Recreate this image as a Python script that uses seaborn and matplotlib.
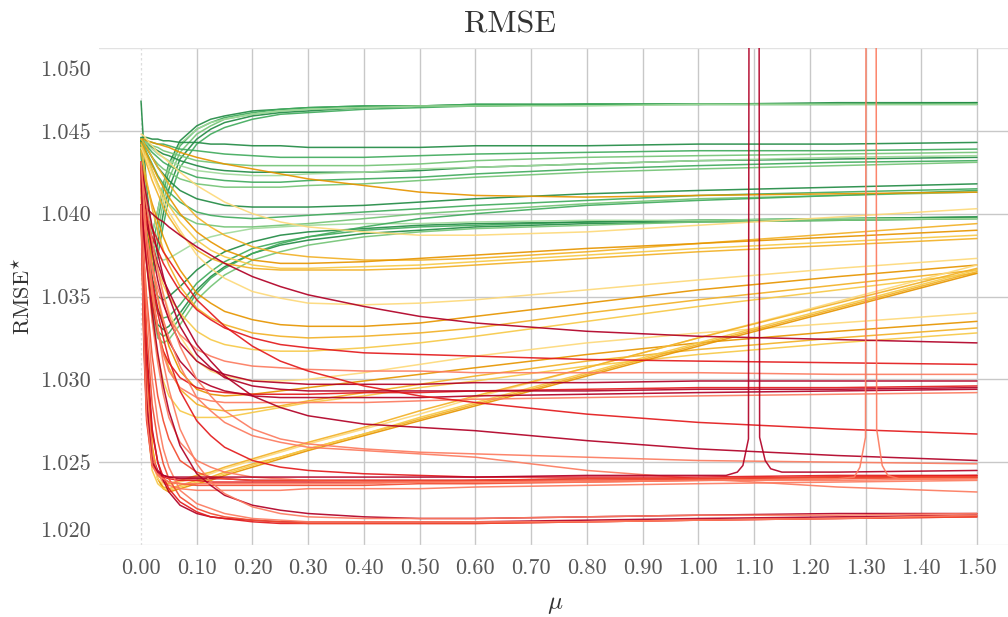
import matplotlib
matplotlib.use("Agg")
import matplotlib.pyplot as plt
import matplotlib.transforms as mtransforms
import seaborn as sns

# ---------------------------------------------------------------------------
# data: RMSE* as a function of the weight mu, one list per curve
# ---------------------------------------------------------------------------
mu = [0.0, 0.005, 0.01, 0.02, 0.03, 0.04, 0.05, 0.07, 0.1, 0.125, 0.15,
      0.2, 0.25, 0.3, 0.4, 0.5, 0.6, 0.8, 1.0, 1.25, 1.5]

green_shades = ["#238b45", "#41ab5d", "#74c476", "#a1d99b"]
yellow_shades = ["#e69500", "#f2b127", "#f7c948", "#fdd97a"]
red_shades = ["#b10026", "#e31a1c", "#f24b2f", "#fc7b5f"]

green_top = [
    [1.0468, 1.0440, 1.0415, 1.0388, 1.0402, 1.0418, 1.0430, 1.0444, 1.0453, 1.0457, 1.0459, 1.0462, 1.0463, 1.0464, 1.0465, 1.0465, 1.0466, 1.0466, 1.0466, 1.0467, 1.0467],
    [1.0445, 1.0425, 1.0403, 1.0380, 1.0396, 1.0413, 1.0426, 1.0441, 1.0451, 1.0455, 1.0458, 1.0461, 1.0463, 1.0464, 1.0465, 1.0465, 1.0466, 1.0466, 1.0466, 1.0466, 1.0466],
    [1.0444, 1.0420, 1.0397, 1.0372, 1.0389, 1.0407, 1.0421, 1.0437, 1.0448, 1.0453, 1.0457, 1.0460, 1.0462, 1.0463, 1.0464, 1.0465, 1.0465, 1.0466, 1.0466, 1.0466, 1.0466],
    [1.0446, 1.0418, 1.0392, 1.0366, 1.0382, 1.0400, 1.0415, 1.0433, 1.0445, 1.0451, 1.0455, 1.0459, 1.0461, 1.0462, 1.0464, 1.0465, 1.0465, 1.0466, 1.0466, 1.0466, 1.0467],
    [1.0443, 1.0414, 1.0387, 1.0360, 1.0375, 1.0393, 1.0409, 1.0428, 1.0442, 1.0448, 1.0452, 1.0457, 1.0460, 1.0461, 1.0463, 1.0464, 1.0465, 1.0466, 1.0466, 1.0466, 1.0466],
    [1.0445, 1.0428, 1.0410, 1.0388, 1.0402, 1.0417, 1.0428, 1.0442, 1.0451, 1.0455, 1.0457, 1.0460, 1.0462, 1.0463, 1.0464, 1.0465, 1.0465, 1.0465, 1.0466, 1.0466, 1.0466],
]
green_top_shade = [0, 1, 2, 0, 1, 3]

green_upper = [
    [1.0446, 1.0446, 1.0446, 1.0445, 1.0445, 1.0444, 1.0444, 1.0443, 1.0443, 1.0442, 1.0442, 1.0441, 1.0441, 1.0440, 1.0440, 1.0440, 1.0441, 1.0441, 1.0442, 1.0442, 1.0443],
    [1.0445, 1.0445, 1.0444, 1.0443, 1.0442, 1.0442, 1.0441, 1.0439, 1.0438, 1.0437, 1.0436, 1.0435, 1.0434, 1.0434, 1.0434, 1.0435, 1.0436, 1.0437, 1.0438, 1.0438, 1.0439],
    [1.0445, 1.0444, 1.0443, 1.0441, 1.0440, 1.0438, 1.0437, 1.0435, 1.0432, 1.0431, 1.0430, 1.0429, 1.0429, 1.0429, 1.0429, 1.0430, 1.0432, 1.0434, 1.0435, 1.0436, 1.0437],
    [1.0444, 1.0443, 1.0442, 1.0440, 1.0438, 1.0436, 1.0435, 1.0432, 1.0429, 1.0427, 1.0426, 1.0425, 1.0425, 1.0425, 1.0425, 1.0426, 1.0428, 1.0430, 1.0432, 1.0433, 1.0434],
    [1.0445, 1.0443, 1.0442, 1.0439, 1.0436, 1.0434, 1.0432, 1.0429, 1.0426, 1.0425, 1.0424, 1.0423, 1.0423, 1.0424, 1.0425, 1.0427, 1.0428, 1.0430, 1.0432, 1.0434, 1.0435],
    [1.0444, 1.0442, 1.0441, 1.0437, 1.0434, 1.0431, 1.0429, 1.0426, 1.0422, 1.0421, 1.0420, 1.0419, 1.0419, 1.0420, 1.0421, 1.0422, 1.0424, 1.0427, 1.0429, 1.0431, 1.0432],
    [1.0443, 1.0441, 1.0439, 1.0434, 1.0430, 1.0427, 1.0425, 1.0421, 1.0418, 1.0417, 1.0416, 1.0416, 1.0416, 1.0417, 1.0418, 1.0420, 1.0422, 1.0425, 1.0427, 1.0429, 1.0431],
]
green_upper_shade = [0, 1, 2, 0, 3, 1, 2]

green_middle = [
    [1.0445, 1.0443, 1.0440, 1.0434, 1.0428, 1.0424, 1.0420, 1.0414, 1.0409, 1.0407, 1.0405, 1.0404, 1.0404, 1.0404, 1.0405, 1.0407, 1.0409, 1.0412, 1.0414, 1.0416, 1.0418],
    [1.0444, 1.0441, 1.0437, 1.0430, 1.0423, 1.0418, 1.0413, 1.0407, 1.0401, 1.0399, 1.0398, 1.0397, 1.0398, 1.0399, 1.0401, 1.0403, 1.0405, 1.0408, 1.0411, 1.0413, 1.0415],
    [1.0445, 1.0441, 1.0436, 1.0426, 1.0418, 1.0411, 1.0406, 1.0399, 1.0394, 1.0393, 1.0392, 1.0392, 1.0393, 1.0394, 1.0397, 1.0400, 1.0402, 1.0406, 1.0409, 1.0411, 1.0413],
]
green_middle_shade = [0, 1, 2]

green_lower = [
    [1.0440, 1.0408, 1.0380, 1.0346, 1.0333, 1.0330, 1.0332, 1.0340, 1.0354, 1.0362, 1.0368, 1.0376, 1.0381, 1.0384, 1.0388, 1.0390, 1.0392, 1.0394, 1.0395, 1.0396, 1.0397],
    [1.0442, 1.0412, 1.0385, 1.0353, 1.0340, 1.0337, 1.0338, 1.0345, 1.0358, 1.0365, 1.0371, 1.0379, 1.0383, 1.0386, 1.0390, 1.0392, 1.0393, 1.0395, 1.0396, 1.0397, 1.0398],
    [1.0438, 1.0404, 1.0375, 1.0340, 1.0325, 1.0322, 1.0324, 1.0333, 1.0348, 1.0356, 1.0363, 1.0372, 1.0377, 1.0381, 1.0386, 1.0389, 1.0391, 1.0393, 1.0395, 1.0396, 1.0397],
    [1.0444, 1.0416, 1.0390, 1.0361, 1.0350, 1.0348, 1.0350, 1.0356, 1.0366, 1.0372, 1.0377, 1.0383, 1.0387, 1.0389, 1.0391, 1.0393, 1.0394, 1.0395, 1.0396, 1.0397, 1.0398],
    [1.0440, 1.0418, 1.0400, 1.0381, 1.0374, 1.0372, 1.0373, 1.0377, 1.0383, 1.0386, 1.0388, 1.0391, 1.0392, 1.0393, 1.0394, 1.0394, 1.0395, 1.0396, 1.0396, 1.0397, 1.0397],
    [1.0441, 1.0407, 1.0378, 1.0343, 1.0329, 1.0326, 1.0328, 1.0337, 1.0352, 1.0361, 1.0367, 1.0376, 1.0382, 1.0386, 1.0392, 1.0397, 1.0400, 1.0405, 1.0408, 1.0411, 1.0414],
]
green_lower_shade = [0, 1, 2, 0, 3, 1]

yellow_upper = [
    [1.0445, 1.0445, 1.0444, 1.0443, 1.0442, 1.0441, 1.0440, 1.0437, 1.0434, 1.0432, 1.0430, 1.0427, 1.0424, 1.0421, 1.0417, 1.0413, 1.0411, 1.0410, 1.0411, 1.0412, 1.0413],
    [1.0448, 1.0447, 1.0445, 1.0441, 1.0437, 1.0434, 1.0431, 1.0425, 1.0417, 1.0412, 1.0407, 1.0400, 1.0395, 1.0392, 1.0389, 1.0387, 1.0387, 1.0389, 1.0393, 1.0398, 1.0403],
    [1.0445, 1.0443, 1.0440, 1.0434, 1.0428, 1.0423, 1.0418, 1.0409, 1.0398, 1.0392, 1.0387, 1.0380, 1.0376, 1.0374, 1.0372, 1.0372, 1.0373, 1.0377, 1.0382, 1.0388, 1.0394],
    [1.0443, 1.0440, 1.0436, 1.0429, 1.0422, 1.0416, 1.0410, 1.0400, 1.0389, 1.0383, 1.0378, 1.0372, 1.0370, 1.0370, 1.0371, 1.0373, 1.0375, 1.0379, 1.0382, 1.0386, 1.0390],
    [1.0442, 1.0438, 1.0434, 1.0426, 1.0418, 1.0411, 1.0405, 1.0395, 1.0384, 1.0378, 1.0374, 1.0369, 1.0367, 1.0367, 1.0368, 1.0369, 1.0371, 1.0375, 1.0379, 1.0383, 1.0387],
    [1.0440, 1.0435, 1.0430, 1.0420, 1.0412, 1.0404, 1.0398, 1.0388, 1.0378, 1.0373, 1.0370, 1.0367, 1.0366, 1.0366, 1.0366, 1.0367, 1.0369, 1.0373, 1.0377, 1.0381, 1.0385],
]
yellow_upper_shade = [0, 3, 1, 0, 2, 1]

yellow_middle = [
    [1.0440, 1.0436, 1.0432, 1.0424, 1.0416, 1.0408, 1.0401, 1.0390, 1.0375, 1.0367, 1.0361, 1.0353, 1.0349, 1.0346, 1.0345, 1.0346, 1.0348, 1.0354, 1.0360, 1.0367, 1.0373],
    [1.0430, 1.0424, 1.0418, 1.0406, 1.0396, 1.0386, 1.0378, 1.0366, 1.0352, 1.0346, 1.0341, 1.0336, 1.0333, 1.0332, 1.0332, 1.0334, 1.0338, 1.0346, 1.0354, 1.0362, 1.0369],
    [1.0438, 1.0429, 1.0420, 1.0403, 1.0390, 1.0378, 1.0369, 1.0356, 1.0343, 1.0337, 1.0333, 1.0328, 1.0326, 1.0325, 1.0326, 1.0328, 1.0331, 1.0340, 1.0348, 1.0357, 1.0366],
    [1.0410, 1.0401, 1.0393, 1.0378, 1.0366, 1.0357, 1.0350, 1.0340, 1.0329, 1.0324, 1.0321, 1.0318, 1.0317, 1.0317, 1.0319, 1.0322, 1.0326, 1.0335, 1.0344, 1.0354, 1.0364],
]
yellow_middle_shade = [3, 0, 1, 2]

yellow_lower = [
    [1.0420, 1.0410, 1.0400, 1.0381, 1.0365, 1.0352, 1.0341, 1.0326, 1.0311, 1.0305, 1.0302, 1.0299, 1.0299, 1.0300, 1.0304, 1.0309, 1.0314, 1.0322, 1.0328, 1.0334, 1.0340],
    [1.0430, 1.0413, 1.0398, 1.0370, 1.0349, 1.0333, 1.0320, 1.0305, 1.0294, 1.0291, 1.0290, 1.0291, 1.0293, 1.0295, 1.0299, 1.0303, 1.0307, 1.0315, 1.0322, 1.0329, 1.0335],
    [1.0405, 1.0389, 1.0375, 1.0350, 1.0331, 1.0317, 1.0307, 1.0294, 1.0285, 1.0282, 1.0281, 1.0282, 1.0284, 1.0287, 1.0292, 1.0297, 1.0302, 1.0311, 1.0318, 1.0325, 1.0331],
    [1.0415, 1.0390, 1.0370, 1.0336, 1.0314, 1.0299, 1.0290, 1.0281, 1.0277, 1.0277, 1.0277, 1.0280, 1.0283, 1.0286, 1.0290, 1.0295, 1.0299, 1.0308, 1.0315, 1.0322, 1.0328],
]
yellow_lower_shade = [3, 0, 1, 2]

yellow_rising = [
    [1.0405, 1.0340, 1.0295, 1.0255, 1.0240, 1.0235, 1.0234, 1.0236, 1.0239, 1.0241, 1.0244, 1.0249, 1.0253, 1.0258, 1.0267, 1.0276, 1.0285, 1.0303, 1.0321, 1.0343, 1.0365],
    [1.0431, 1.0365, 1.0315, 1.0260, 1.0240, 1.0234, 1.0232, 1.0234, 1.0237, 1.0239, 1.0242, 1.0247, 1.0252, 1.0257, 1.0266, 1.0275, 1.0284, 1.0302, 1.0320, 1.0342, 1.0364],
    [1.0410, 1.0335, 1.0288, 1.0250, 1.0240, 1.0237, 1.0236, 1.0238, 1.0241, 1.0243, 1.0246, 1.0251, 1.0256, 1.0261, 1.0270, 1.0279, 1.0289, 1.0307, 1.0325, 1.0347, 1.0369],
    [1.0400, 1.0325, 1.0280, 1.0245, 1.0237, 1.0234, 1.0233, 1.0235, 1.0238, 1.0240, 1.0243, 1.0248, 1.0253, 1.0258, 1.0267, 1.0277, 1.0286, 1.0304, 1.0322, 1.0344, 1.0366],
    [1.0420, 1.0360, 1.0308, 1.0258, 1.0243, 1.0238, 1.0237, 1.0239, 1.0242, 1.0244, 1.0247, 1.0252, 1.0257, 1.0262, 1.0271, 1.0281, 1.0290, 1.0307, 1.0325, 1.0346, 1.0367],
]
yellow_rising_shade = [1, 0, 3, 2, 1]

red_slow = [
    [1.0405, 1.0404, 1.0403, 1.0400, 1.0397, 1.0395, 1.0392, 1.0387, 1.0380, 1.0375, 1.0370, 1.0362, 1.0356, 1.0351, 1.0344, 1.0338, 1.0334, 1.0329, 1.0326, 1.0324, 1.0322],
    [1.0405, 1.0400, 1.0395, 1.0386, 1.0378, 1.0370, 1.0364, 1.0353, 1.0342, 1.0336, 1.0331, 1.0325, 1.0321, 1.0319, 1.0316, 1.0315, 1.0314, 1.0312, 1.0311, 1.0310, 1.0309],
    [1.0405, 1.0394, 1.0385, 1.0368, 1.0355, 1.0345, 1.0337, 1.0327, 1.0318, 1.0314, 1.0311, 1.0308, 1.0307, 1.0306, 1.0305, 1.0305, 1.0304, 1.0304, 1.0304, 1.0303, 1.0303],
    [1.0431, 1.0414, 1.0400, 1.0377, 1.0360, 1.0346, 1.0336, 1.0322, 1.0311, 1.0306, 1.0303, 1.0299, 1.0298, 1.0297, 1.0297, 1.0297, 1.0298, 1.0298, 1.0299, 1.0299, 1.0299],
    [1.0405, 1.0386, 1.0370, 1.0345, 1.0328, 1.0317, 1.0310, 1.0301, 1.0295, 1.0293, 1.0292, 1.0291, 1.0291, 1.0291, 1.0292, 1.0292, 1.0293, 1.0294, 1.0295, 1.0295, 1.0296],
    [1.0405, 1.0392, 1.0380, 1.0360, 1.0343, 1.0332, 1.0323, 1.0311, 1.0300, 1.0296, 1.0293, 1.0290, 1.0289, 1.0289, 1.0289, 1.0289, 1.0290, 1.0291, 1.0292, 1.0293, 1.0294],
    [1.0431, 1.0405, 1.0385, 1.0352, 1.0330, 1.0315, 1.0305, 1.0295, 1.0289, 1.0287, 1.0286, 1.0286, 1.0286, 1.0286, 1.0286, 1.0287, 1.0288, 1.0289, 1.0290, 1.0291, 1.0292],
    [1.0405, 1.0402, 1.0398, 1.0391, 1.0384, 1.0377, 1.0372, 1.0362, 1.0348, 1.0340, 1.0332, 1.0320, 1.0311, 1.0305, 1.0296, 1.0290, 1.0286, 1.0279, 1.0274, 1.0270, 1.0267],
    [1.0405, 1.0399, 1.0393, 1.0381, 1.0370, 1.0360, 1.0353, 1.0339, 1.0321, 1.0311, 1.0302, 1.0290, 1.0283, 1.0278, 1.0273, 1.0271, 1.0269, 1.0263, 1.0258, 1.0254, 1.0251],
    [1.0431, 1.0417, 1.0405, 1.0383, 1.0366, 1.0351, 1.0339, 1.0320, 1.0300, 1.0290, 1.0281, 1.0270, 1.0264, 1.0261, 1.0258, 1.0256, 1.0255, 1.0253, 1.0251, 1.0250, 1.0249],
    [1.0405, 1.0395, 1.0385, 1.0366, 1.0350, 1.0336, 1.0325, 1.0308, 1.0289, 1.0281, 1.0274, 1.0266, 1.0262, 1.0259, 1.0257, 1.0255, 1.0253, 1.0245, 1.0240, 1.0235, 1.0232],
    [1.0431, 1.0420, 1.0410, 1.0392, 1.0376, 1.0362, 1.0350, 1.0332, 1.0315, 1.0307, 1.0301, 1.0296, 1.0294, 1.0293, 1.0293, 1.0293, 1.0293, 1.0293, 1.0294, 1.0294, 1.0295],
]
red_slow_shade = [0, 1, 3, 0, 1, 0, 3, 1, 0, 3, 3, 0]

red_flat = [
    [1.0431, 1.0340, 1.0290, 1.0253, 1.0245, 1.0242, 1.0241, 1.0240, 1.0240, 1.0240, 1.0240, 1.0239, 1.0239, 1.0239, 1.0239, 1.0239, 1.0239, 1.0240, 1.0240, 1.0241, 1.0241],
    [1.0405, 1.0320, 1.0275, 1.0248, 1.0243, 1.0241, 1.0240, 1.0239, 1.0239, 1.0238, 1.0238, 1.0238, 1.0238, 1.0238, 1.0238, 1.0238, 1.0239, 1.0239, 1.0240, 1.0241, 1.0242],
    [1.0405, 1.0328, 1.0282, 1.0250, 1.0243, 1.0240, 1.0238, 1.0237, 1.0236, 1.0236, 1.0236, 1.0236, 1.0236, 1.0236, 1.0236, 1.0237, 1.0237, 1.0238, 1.0239, 1.0240, 1.0241],
    [1.0431, 1.0350, 1.0300, 1.0255, 1.0243, 1.0238, 1.0236, 1.0234, 1.0233, 1.0233, 1.0233, 1.0233, 1.0233, 1.0234, 1.0234, 1.0234, 1.0235, 1.0236, 1.0237, 1.0238, 1.0239],
    [1.0405, 1.0392, 1.0380, 1.0358, 1.0340, 1.0325, 1.0312, 1.0293, 1.0275, 1.0266, 1.0259, 1.0251, 1.0247, 1.0245, 1.0243, 1.0242, 1.0241, 1.0241, 1.0241, 1.0242, 1.0242],
    [1.0431, 1.0400, 1.0375, 1.0335, 1.0310, 1.0291, 1.0277, 1.0262, 1.0251, 1.0247, 1.0244, 1.0241, 1.0240, 1.0239, 1.0238, 1.0238, 1.0238, 1.0238, 1.0239, 1.0239, 1.0240],
    [1.0405, 1.0375, 1.0350, 1.0314, 1.0290, 1.0275, 1.0264, 1.0251, 1.0244, 1.0241, 1.0240, 1.0239, 1.0239, 1.0239, 1.0239, 1.0239, 1.0239, 1.0240, 1.0240, 1.0241, 1.0241],
]
red_flat_shade = [0, 1, 2, 3, 1, 3, 2]

red_bottom = [
    [1.0431, 1.0365, 1.0320, 1.0270, 1.0250, 1.0239, 1.0232, 1.0224, 1.0219, 1.0217, 1.0216, 1.0215, 1.0214, 1.0214, 1.0214, 1.0214, 1.0214, 1.0215, 1.0216, 1.0217, 1.0218],
    [1.0405, 1.0350, 1.0310, 1.0268, 1.0250, 1.0241, 1.0234, 1.0226, 1.0220, 1.0217, 1.0216, 1.0214, 1.0213, 1.0213, 1.0213, 1.0213, 1.0213, 1.0214, 1.0215, 1.0216, 1.0217],
    [1.0405, 1.0365, 1.0330, 1.0285, 1.0263, 1.0249, 1.0240, 1.0229, 1.0222, 1.0219, 1.0217, 1.0215, 1.0214, 1.0213, 1.0213, 1.0213, 1.0213, 1.0214, 1.0215, 1.0216, 1.0217],
    [1.0405, 1.0373, 1.0345, 1.0300, 1.0275, 1.0258, 1.0247, 1.0233, 1.0225, 1.0222, 1.0219, 1.0216, 1.0215, 1.0214, 1.0214, 1.0214, 1.0214, 1.0214, 1.0215, 1.0216, 1.0218],
    [1.0405, 1.0387, 1.0370, 1.0340, 1.0316, 1.0296, 1.0281, 1.0260, 1.0243, 1.0236, 1.0230, 1.0224, 1.0221, 1.0219, 1.0217, 1.0216, 1.0216, 1.0217, 1.0218, 1.0219, 1.0219],
    [1.0431, 1.0408, 1.0388, 1.0356, 1.0330, 1.0310, 1.0294, 1.0270, 1.0249, 1.0238, 1.0231, 1.0223, 1.0219, 1.0217, 1.0216, 1.0216, 1.0216, 1.0217, 1.0218, 1.0218, 1.0219],
]
red_bottom_shade = [0, 1, 2, 3, 0, 3]

# two runs that blow up locally (far above the top of the axes)
mu_spike_a = [0.0, 0.005, 0.01, 0.02, 0.03, 0.04, 0.05, 0.07, 0.1, 0.125, 0.15, 0.2, 0.25, 0.3, 0.4, 0.5, 0.6, 0.8, 1.0,
              1.05, 1.07, 1.08, 1.09, 1.10, 1.11, 1.12, 1.13, 1.15, 1.25, 1.5]
rmse_spike_a = [1.0405, 1.0330, 1.0285, 1.0250, 1.0244, 1.0242, 1.0241, 1.0241, 1.0241, 1.0241, 1.0241, 1.0241, 1.0241, 1.0241, 1.0241, 1.0241, 1.0241, 1.0242, 1.0242,
                1.0242, 1.0244, 1.0248, 1.0264, 1.3000, 1.0265, 1.0251, 1.0246, 1.0244, 1.0244, 1.0245]
mu_spike_b = [0.0, 0.005, 0.01, 0.02, 0.03, 0.04, 0.05, 0.07, 0.1, 0.125, 0.15, 0.2, 0.25, 0.3, 0.4, 0.5, 0.6, 0.8, 1.0,
              1.25, 1.28, 1.29, 1.30, 1.31, 1.32, 1.33, 1.34, 1.36, 1.5]
rmse_spike_b = [1.0405, 1.0325, 1.0278, 1.0248, 1.0242, 1.0240, 1.0238, 1.0237, 1.0237, 1.0237, 1.0237, 1.0237, 1.0237, 1.0237, 1.0237, 1.0238, 1.0238, 1.0239, 1.0239,
                1.0240, 1.0241, 1.0247, 1.0265, 1.3000, 1.0270, 1.0248, 1.0242, 1.0240, 1.0240]

x_ticks = [0.0, 0.1, 0.2, 0.3, 0.4, 0.5, 0.6, 0.7, 0.8, 0.9, 1.0, 1.1, 1.2, 1.3, 1.4, 1.5]
y_ticks = [1.020, 1.025, 1.030, 1.035, 1.040, 1.045, 1.050]

# ---------------------------------------------------------------------------
# styling
# ---------------------------------------------------------------------------
sns.set_theme(style="white")
plt.rcParams["font.family"] = "serif"
plt.rcParams["font.serif"] = ["cmr10", "DejaVu Serif"]
plt.rcParams["mathtext.fontset"] = "cm"
plt.rcParams["axes.unicode_minus"] = False
plt.rcParams["axes.formatter.use_mathtext"] = True

fig = plt.figure(figsize=(10.08, 6.17), dpi=100)
ax = fig.add_axes([99 / 1008, 1 - 545 / 617, 909 / 1008, 497 / 617])

LW = 1.1
ALPHA = 0.92


def draw(xs, ys, color):
    sns.lineplot(x=xs, y=ys, color=color, lw=LW, alpha=ALPHA, estimator=None,
                 errorbar=None, sort=False, ax=ax, legend=False)


for group, shades in [(green_top, green_top_shade), (green_upper, green_upper_shade),
                      (green_middle, green_middle_shade), (green_lower, green_lower_shade)]:
    for vals, s in zip(group, shades):
        draw(mu, vals, green_shades[s])

for group, shades in [(yellow_upper, yellow_upper_shade), (yellow_middle, yellow_middle_shade),
                      (yellow_lower, yellow_lower_shade), (yellow_rising, yellow_rising_shade)]:
    for vals, s in zip(group, shades):
        draw(mu, vals, yellow_shades[s])

for group, shades in [(red_slow, red_slow_shade), (red_flat, red_flat_shade),
                      (red_bottom, red_bottom_shade)]:
    for vals, s in zip(group, shades):
        draw(mu, vals, red_shades[s])

draw(mu_spike_a, rmse_spike_a, red_shades[0])
draw(mu_spike_b, rmse_spike_b, red_shades[3])

# axes
ax.set_xlim(-0.0754, 1.5557)
ax.set_ylim(1.020, 1.050)
ax.set_xticks(x_ticks)
ax.set_xticklabels([f"{v:.2f}" for v in x_ticks])
ax.set_yticks(y_ticks)
ax.set_yticklabels([f"{v:.3f}" for v in y_ticks])
ax.tick_params(axis="both", length=0, labelsize=16, labelcolor="#555555")
ax.tick_params(axis="x", pad=10)
ax.tick_params(axis="y", pad=6)
for sp in ax.spines.values():
    sp.set_visible(False)

ax.grid(True, color="#c8c8c8", lw=1.0)
ax.set_axisbelow(True)
ax.axvline(0, color="#dddddd", lw=0.9, ls=(0, (2, 2)), zorder=0.5)
for gl in ax.xaxis.get_gridlines():
    if abs(gl.get_xdata()[0]) < 1e-9:
        gl.set_visible(False)
for gl, v in zip(ax.yaxis.get_gridlines(), y_ticks):
    if v in (1.020, 1.050):
        gl.set_color("#e2e2e2")

# keep the end labels of the y axis inside the plotting area
yt = ax.yaxis.get_major_ticks()
yt[0].label1.set_transform(yt[0].label1.get_transform()
                           + mtransforms.ScaledTranslation(0, 16 / 100, fig.dpi_scale_trans))
yt[-1].label1.set_transform(yt[-1].label1.get_transform()
                            + mtransforms.ScaledTranslation(0, -20 / 100, fig.dpi_scale_trans))

ax.set_xlabel(r"$\mu$", fontsize=18, color="#333333", va="center")
ax.xaxis.set_label_coords(0.502, -0.121)
ax.set_ylabel(r"RMSE$^{\star}$", fontsize=16, color="#333333")
ax.yaxis.set_label_coords(-0.072, 0.5)

fig.text(0.506, 1 - 25 / 617, "RMSE", ha="center", va="center", fontsize=23, color="#333333")

fig.savefig("out.png", dpi=100, facecolor="white")
